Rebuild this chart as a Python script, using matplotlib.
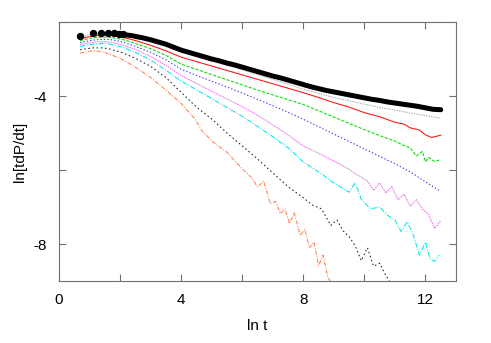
import numpy as np
import matplotlib
matplotlib.use("Agg")
import matplotlib.pyplot as plt
from matplotlib.ticker import FixedLocator, NullFormatter

plt.rcParams['font.family'] = ['Liberation Sans', 'DejaVu Sans']

# ---- data ----
x_black = [0.69, 1.10, 1.39, 1.61, 1.79, 1.95, 2.08, 2.2, 2.3, 2.4, 2.5, 2.75, 3.0, 3.25, 3.5, 3.75, 4.0,
           4.25, 4.5, 4.75, 5.0, 5.25, 5.5, 5.75, 6.0, 6.25, 6.5, 6.75, 7.0, 7.25, 7.5, 7.75, 8.0,
           8.25, 8.5, 8.75, 9.0, 9.25, 9.5, 9.75, 10.0, 10.25, 10.5, 10.75, 11.0, 11.25, 11.5, 11.75,
           12.0, 12.25, 12.5]
y_black = [-2.38, -2.30, -2.29, -2.29, -2.31, -2.32, -2.33, -2.35, -2.36, -2.37, -2.39, -2.43, -2.48,
           -2.54, -2.60, -2.68, -2.76, -2.82, -2.88, -2.94, -3.00, -3.05, -3.11, -3.16, -3.22, -3.28,
           -3.34, -3.40, -3.46, -3.51, -3.57, -3.63, -3.69, -3.75, -3.80, -3.85, -3.89, -3.93, -3.97,
           -4.01, -4.05, -4.09, -4.12, -4.16, -4.19, -4.22, -4.25, -4.28, -4.32, -4.36, -4.37]

x_grid = [0.69, 1.10, 1.39, 1.61, 1.79, 2.08, 2.5, 3.0, 3.5, 4.0, 4.5, 5.0, 5.5, 6.0, 6.5, 7.0, 7.5,
          8.0, 8.5, 9.0, 9.5, 10.0, 10.5, 11.0, 11.5, 12.0, 12.5]
y_gray = [-2.40, -2.33, -2.31, -2.31, -2.33, -2.36, -2.41, -2.50, -2.62, -2.79, -2.92, -3.05, -3.17,
          -3.29, -3.42, -3.55, -3.68, -3.82, -3.93, -4.04, -4.13, -4.22, -4.31, -4.38, -4.46, -4.53,
          -4.60]

x_red = [0.69, 1.10, 1.39, 1.61, 1.79, 2.08, 2.5, 3.0, 3.5, 4.0, 4.5, 5.0, 5.5, 6.0, 6.5, 7.0, 7.5,
         8.0, 8.5, 9.0, 9.5, 10.0, 10.5, 11.0, 11.3, 11.5, 11.8, 12.0, 12.2, 12.5]
y_red = [-2.45, -2.38, -2.36, -2.36, -2.38, -2.41, -2.50, -2.63, -2.78, -2.95, -3.07, -3.19, -3.31,
         -3.43, -3.55, -3.67, -3.79, -3.91, -4.04, -4.18, -4.30, -4.45, -4.56, -4.71, -4.76, -4.86,
         -4.92, -5.05, -5.12, -5.06]

x_green = [0.69, 1.10, 1.39, 1.61, 1.79, 2.08, 2.5, 3.0, 3.5, 4.0, 4.5, 5.0, 5.5, 6.0, 6.5, 7.0, 7.5,
           8.0, 8.5, 9.0, 9.5, 10.0, 10.5, 11.0, 11.3, 11.5, 11.7, 11.9, 12.0, 12.1, 12.3, 12.5]
y_green = [-2.50, -2.43, -2.41, -2.41, -2.43, -2.47, -2.58, -2.72, -2.90, -3.14, -3.28, -3.42, -3.56,
           -3.70, -3.84, -3.97, -4.10, -4.23, -4.40, -4.57, -4.74, -4.91, -5.07, -5.22, -5.34, -5.40,
           -5.62, -5.50, -5.78, -5.66, -5.77, -5.72]

x_blue = x_grid
y_blue = [-2.56, -2.49, -2.47, -2.47, -2.49, -2.54, -2.66, -2.82, -3.02, -3.28, -3.44, -3.60, -3.76,
          -3.92, -4.09, -4.26, -4.44, -4.63, -4.83, -5.03, -5.23, -5.43, -5.63, -5.83, -6.05, -6.32,
          -6.58]

x_magenta = [0.69, 1.10, 1.39, 1.61, 1.79, 2.08, 2.5, 3.0, 3.5, 4.0, 4.5, 5.0, 5.5, 6.0, 6.5, 7.0,
             7.5, 8.0, 8.5, 9.0, 9.2, 9.5, 9.7, 9.9, 10.1, 10.3, 10.5, 10.7, 10.9, 11.1, 11.3, 11.5,
             11.7, 11.9, 12.1, 12.3, 12.5]
y_magenta = [-2.61, -2.55, -2.53, -2.54, -2.56, -2.62, -2.74, -2.93, -3.17, -3.45, -3.66, -3.87,
             -4.08, -4.29, -4.52, -4.78, -5.05, -5.35, -5.55, -5.76, -5.84, -5.98, -6.10, -6.19,
             -6.30, -6.55, -6.35, -6.62, -6.45, -6.80, -6.65, -6.98, -6.80, -7.05, -7.20, -7.58,
             -7.37]

x_cyan = [0.69, 1.10, 1.39, 1.61, 1.79, 2.08, 2.5, 3.0, 3.5, 4.0, 4.5, 5.0, 5.5, 6.0, 6.5, 7.0, 7.5,
          8.0, 8.3, 8.6, 8.9, 9.2, 9.5, 9.7, 9.9, 10.2, 10.5, 10.75, 11.0, 11.2, 11.4, 11.6, 11.8,
          12.0, 12.15, 12.3, 12.45]
y_cyan = [-2.66, -2.60, -2.58, -2.59, -2.62, -2.68, -2.82, -3.03, -3.30, -3.60, -3.83, -4.07, -4.31,
          -4.55, -4.82, -5.10, -5.40, -5.78, -5.95, -6.10, -6.30, -6.45, -6.60, -6.35, -6.80, -7.05,
          -7.00, -7.22, -7.35, -7.66, -7.40, -7.75, -8.30, -7.95, -8.40, -8.47, -8.30]

x_dash = [0.69, 1.10, 1.39, 1.61, 1.79, 2.08, 2.5, 3.0, 3.5, 4.0, 4.5, 5.0, 5.5, 6.0, 6.5, 7.0, 7.5,
          8.0, 8.3, 8.6, 8.9, 9.1, 9.3, 9.5, 9.7, 9.9, 10.1, 10.3, 10.5, 10.7, 10.9]
y_dash = [-2.75, -2.70, -2.70, -2.72, -2.76, -2.83, -2.98, -3.20, -3.50, -3.90, -4.30, -4.62, -5.00,
          -5.35, -5.70, -6.08, -6.45, -6.75, -6.95, -7.05, -7.50, -7.35, -7.64, -7.80, -8.05, -8.45,
          -8.10, -8.60, -8.52, -8.85, -9.10]

x_orange = [0.69, 1.00, 1.20, 1.50, 2.00, 2.50, 3.00, 3.50, 4.00, 4.46, 4.69, 5.05, 5.50, 6.00,
            6.30, 6.50, 6.70, 6.92, 7.10, 7.25, 7.40, 7.55, 7.70, 7.90, 8.05, 8.20, 8.35, 8.50,
            8.65, 8.80, 8.95]
y_orange = [-2.84, -2.79, -2.78, -2.82, -2.98, -3.22, -3.50, -3.84, -4.20, -4.63, -4.95, -5.25,
            -5.52, -5.97, -6.20, -6.46, -6.30, -6.91, -6.85, -7.18, -7.05, -7.45, -7.15, -7.77,
            -7.60, -8.10, -7.95, -8.58, -8.30, -8.90, -9.10]

xticks_major = [0, 4, 8, 12]
xticks_minor = [2, 6, 10]
yticks_major = [-8, -4]
yticks_minor = [-6, -2]

# ---- figure ----
fig = plt.figure(figsize=(4.91, 3.43), dpi=100)
ax = fig.add_axes([59 / 491, 1 - 281 / 343, (456 - 59) / 491, (281 - 22) / 343])

lw = 0.75
ax.plot(x_orange, y_orange, color='#ff7f50', lw=lw, ls=(0, (4, 1.5, 1, 1.5)))
ax.plot(x_dash, y_dash, color='#202020', lw=lw, ls=(0, (1.5, 2.5)))
ax.plot(x_cyan, y_cyan, color='#00e8f0', lw=lw, ls=(0, (5, 1.5, 1, 1.5)))
ax.plot(x_magenta, y_magenta, color='#f070f0', lw=lw, ls=(0, (1.5, 0.8)))
ax.plot(x_blue, y_blue, color='#3030ff', lw=lw, ls=(0, (1.3, 2)))
ax.plot(x_green, y_green, color='#00dd00', lw=lw, ls=(0, (3, 1.5)))
ax.plot(x_red, y_red, color='#ff1010', lw=lw, ls='-')
ax.plot(x_grid, y_gray, color='#a0a0a0', lw=lw, ls=(0, (1.2, 1.2)))

xb = np.array(x_black)
yb = np.array(y_black)
band = xb >= 1.9
dots = xb <= 2.1
ax.plot(xb[band], yb[band], color='black', lw=3.6, solid_capstyle='round')
ax.plot(xb[dots], yb[dots], ls='none', marker='o', ms=4.3, color='black')

ax.set_xlim(0, 13)
ax.set_ylim(-9, -2)
ax.xaxis.set_major_locator(FixedLocator(xticks_major))
ax.xaxis.set_minor_locator(FixedLocator(xticks_minor))
ax.yaxis.set_major_locator(FixedLocator(yticks_major))
ax.yaxis.set_minor_locator(FixedLocator(yticks_minor))
ax.xaxis.set_minor_formatter(NullFormatter())
ax.yaxis.set_minor_formatter(NullFormatter())
ax.set_yticklabels(['-8', '-4'])

spine_col = '#707070'
for s in ax.spines.values():
    s.set_color(spine_col)
    s.set_linewidth(0.8)
ax.tick_params(which='both', direction='in', top=True, right=True, length=5,
               color=spine_col, width=0.8, labelsize=11, labelcolor='black')
ax.tick_params(axis='x', which='major', pad=9)
ax.tick_params(axis='y', which='major', pad=9)

ax.set_xlabel('ln t', fontsize=11, labelpad=8)
ax.set_ylabel('ln[tdP/dt]', fontsize=11, labelpad=4)

fig.savefig('out.png', dpi=100)
